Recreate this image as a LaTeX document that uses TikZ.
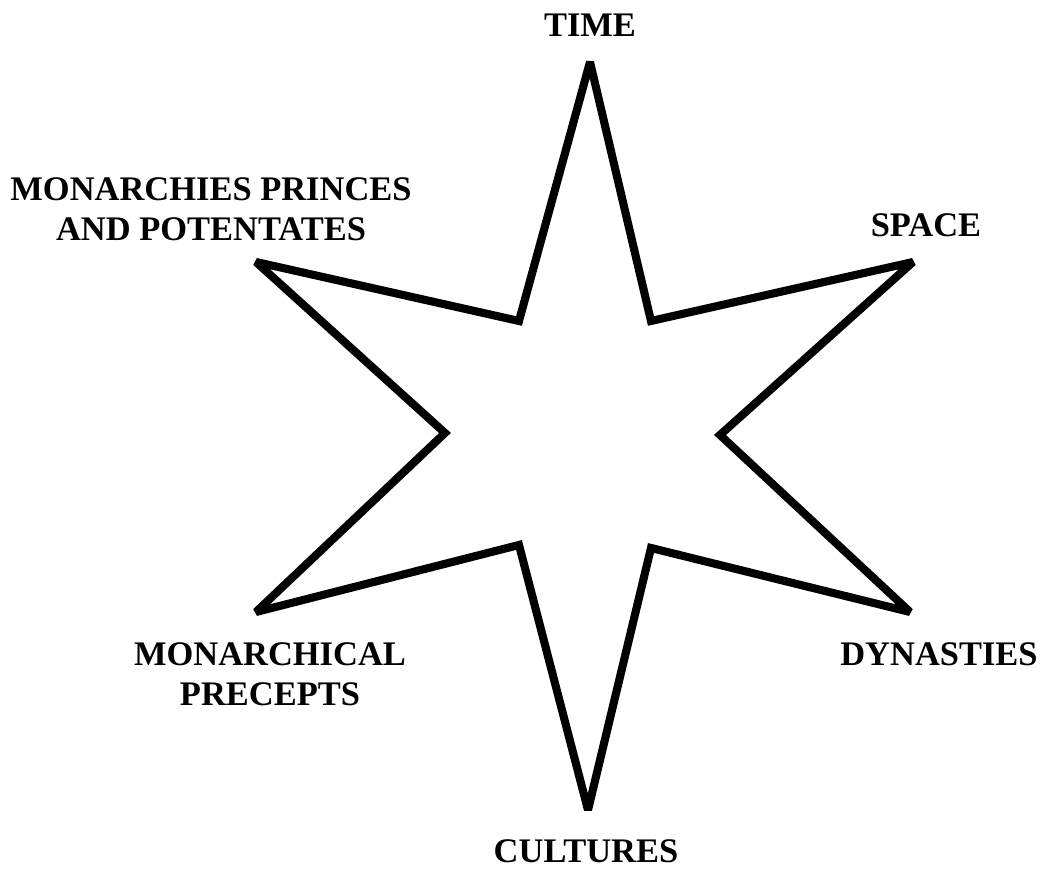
\documentclass[tikz,border=0pt]{standalone}
\usepackage{fontspec}
\setmainfont{Liberation Serif}
\usetikzlibrary{positioning}

\begin{document}
\begin{tikzpicture}[
  x=0.01cm, y=-0.01cm,
  lbl/.style={font=\fontsize{9.8}{11.4}\selectfont\bfseries, align=center, inner sep=0pt},
  starline/.style={draw=black, line width=2.3pt, line join=miter, miter limit=2},
]
\useasboundingbox (0,0) rectangle (1044,871);

% Outer points
\coordinate (tTop) at (590, 62);
\coordinate (tUR) at (913, 262);
\coordinate (tLR) at (910, 612);
\coordinate (tBot) at (588, 810);
\coordinate (tLL) at (256, 612);
\coordinate (tUL) at (256, 262);

% Inner corners
\coordinate (iUR) at (651, 321);
\coordinate (iR) at (720, 435);
\coordinate (iLR) at (651, 548);
\coordinate (iLL) at (519, 545);
\coordinate (iL) at (445, 433);
\coordinate (iUL) at (519, 321);

% Star
\draw[starline] (tTop) -- (iUR) -- (tUR) -- (iR) -- (tLR) -- (iLR) -- (tBot)
  -- (iLL) -- (tLL) -- (iL) -- (tUL) -- (iUL) -- cycle;

% Labels
\node[lbl] (time) at (590, 25) {TIME};
\node[lbl] (space) at (926, 225) {SPACE};
\node[lbl] (dynasties) at (939, 654) {DYNASTIES};
\node[lbl] (cultures) at (586, 851) {CULTURES};
\node[lbl] (precepts) at (270, 674) {MONARCHICAL\\PRECEPTS};
\node[lbl] (monarchies) at (211, 209) {MONARCHIES PRINCES\\AND POTENTATES};

\end{tikzpicture}
\end{document}
